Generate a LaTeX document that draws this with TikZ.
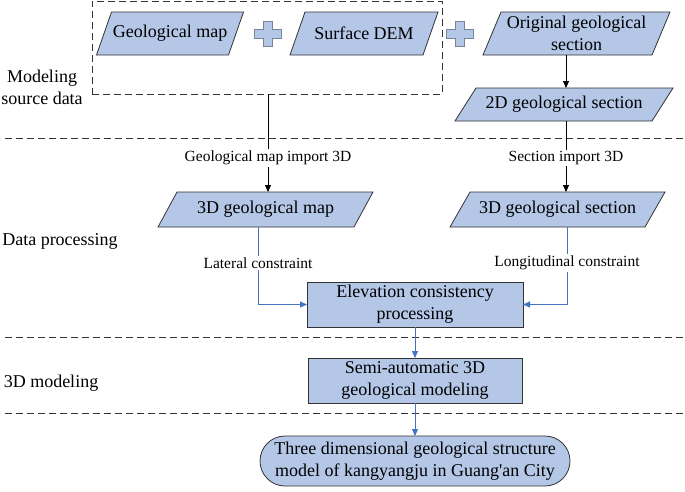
\documentclass[tikz,border=0pt]{standalone}
\usepackage{fontspec}
\setmainfont{LiberationSerif}[Extension=.ttf, UprightFont=*-Regular, BoldFont=*-Bold, ItalicFont=*-Italic]
\usetikzlibrary{calc,backgrounds,arrows.meta,shapes.misc}
\definecolor{boxfill}{HTML}{B4C7E7}
\definecolor{bluel}{HTML}{4472C4}
\definecolor{plusedge}{HTML}{76859C}
\newcommand\paraback[2]{\filldraw[pshape] (#1.south west) -- ($(#1.north west)+(#2,0)$) -- (#1.north east) -- ($(#1.south east)+(-#2,0)$) -- cycle;}
\begin{document}
\begin{tikzpicture}[x=1pt,y=-1pt,
 txt/.style={font=\fontsize{18}{22}\selectfont, align=center, inner sep=0pt, outer sep=0pt},
 ptext/.style={txt, draw=none},
 rbox/.style={txt, draw=black!80, fill=boxfill, line width=0.8pt},
 lbl/.style={font=\fontsize{15.5}{18}\selectfont, fill=white, inner sep=1.5pt},
 pshape/.style={draw=black!80, fill=boxfill, line width=0.8pt},
 sep/.style={dash pattern=on 7pt off 4pt, line width=0.8pt, draw=black!80},
 blk/.style={-{Triangle[length=7pt,width=6pt]}, line width=0.8pt},
 blu/.style={-{Triangle[length=7pt,width=6pt]}, line width=0.8pt, draw=bluel},
 plus/.style={draw=plusedge, fill=boxfill, line width=0.8pt},
 plussign/.pic={\draw[plus] (-4.5,-12.5) -- (4.5,-12.5) -- (4.5,-4.5) -- (13.5,-4.5) -- (13.5,4.5) -- (4.5,4.5) -- (4.5,12.5) -- (-4.5,12.5) -- (-4.5,4.5) -- (-13.5,4.5) -- (-13.5,-4.5) -- (-4.5,-4.5) -- cycle;}]
\useasboundingbox (0,0) rectangle (685,491);

% separators
\draw[sep] (5,138) -- (685,138);
\draw[sep] (5,337) -- (685,337);
\draw[sep] (5,413) -- (685,413);

% source data box
\node[sep, draw, minimum width=350pt, minimum height=93pt, inner sep=0pt, outer sep=0pt] (srcbox) at (267,47.5) {};

% parallelogram nodes
\node[ptext, minimum width=147pt, minimum height=43pt] (gmap) at (170,33.5) {Geological map};
\node[ptext, minimum width=148pt, minimum height=43pt] (dem) at (364,33.5) {Surface DEM};
\node[ptext, minimum width=187pt, minimum height=43pt] (orig) at (576.5,33.5) {Original geological\\section};
\node[ptext, minimum width=218pt, minimum height=33pt] (sec2d) at (564,104.5) {2D geological section};
\node[ptext, minimum width=215pt, minimum height=35pt] (map3d) at (265.5,209.5) {3D geological map};
\node[ptext, minimum width=215pt, minimum height=35pt] (sec3d) at (557.5,209.5) {3D geological section};

% rectangles
\node[rbox, minimum width=216pt, minimum height=45pt] (elev) at (415,304.5) {Elevation consistency\\processing};
\node[rbox, minimum width=214pt, minimum height=45pt] (semi) at (415,380.5) {Semi-automatic 3D\\geological modeling};
\node[rbox, rounded rectangle, minimum width=310pt, minimum height=50pt] (final) at (415,461) {Three dimensional geological structure\\model of kangyangju in Guang\textquotesingle an City};

% plus signs
\pic at (268,34) {plussign};
\pic at (459.5,34) {plussign};

% side labels
\node[txt] (lm) at (42,87) {Modeling\\source data};
\node[txt] (ldp) at (60,241) {Data processing};
\node[txt] (l3d) at (51,383) {3D modeling};

% connector x positions
\coordinate (xa) at (268,0);
\coordinate (xb) at (566,0);
\coordinate (xc) at (258,0);
\coordinate (xd) at (567,0);

% connectors
\draw[blk] (orig.south -| xb) -- (sec2d.north -| xb);
\draw[blk] (srcbox.south -| xa) -- (map3d.north -| xa);
\draw[blk] (sec2d.south -| xb) -- (sec3d.north -| xb);
\draw[blu] (map3d.south -| xc) |- (elev.west);
\draw[blu] (sec3d.south -| xd) |- (elev.east);
\draw[blu] (elev.south) -- (semi.north);
\draw[blu] (semi.south) -- (final.north);

% connector labels
\node[lbl] (lblA) at (268,158) {Geological map import 3D};
\node[lbl] (lblB) at (566,158) {Section import 3D};
\node[lbl] (lblC) at (258,263) {Lateral constraint};
\node[lbl] (lblD) at (567,263) {Longitudinal constraint};

% parallelogram shapes behind text
\begin{scope}[on background layer]
\paraback{gmap}{15}
\paraback{dem}{15}
\paraback{orig}{18}
\paraback{sec2d}{21}
\paraback{map3d}{19}
\paraback{sec3d}{20}
\end{scope}
\end{tikzpicture}
\end{document}
